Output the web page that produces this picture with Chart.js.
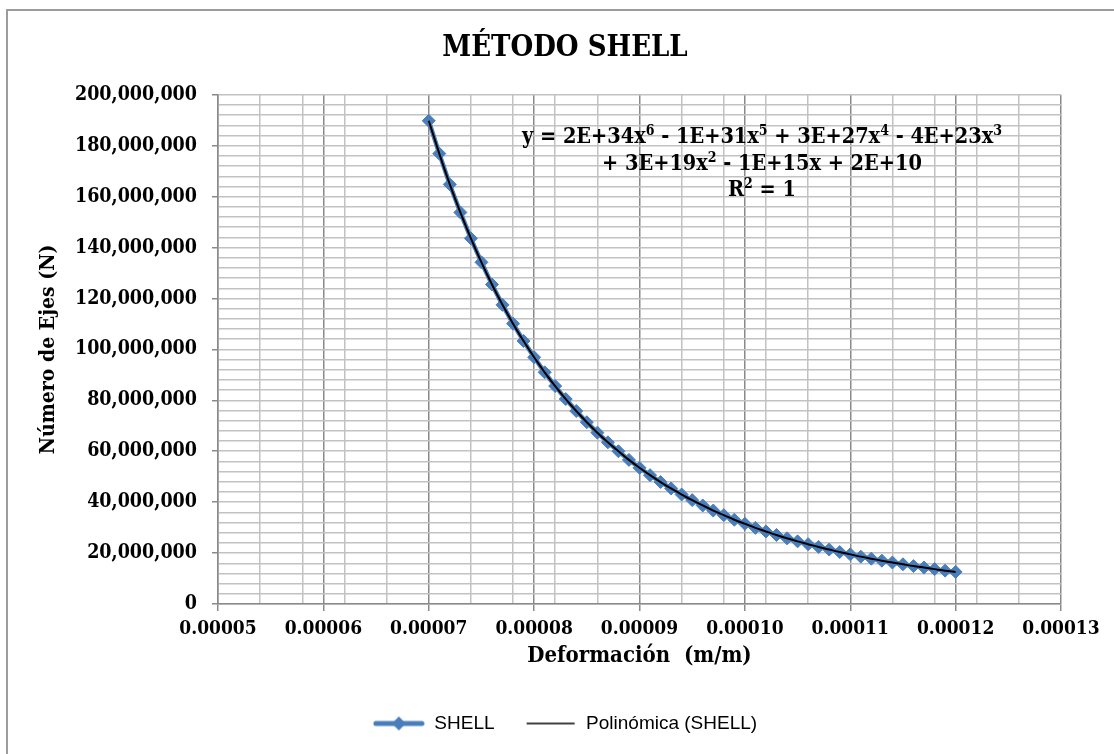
<!DOCTYPE html>
<html>
<head>
<meta charset="utf-8">
<title>Método Shell</title>
<script src="https://cdn.jsdelivr.net/npm/chart.js@4"></script>
<style>
  html, body { margin: 0; padding: 0; background: #fff; overflow: hidden; }
  #frame { position: absolute; left: 6px; top: 9px; width: 1200px; height: 800px; border: 2px solid #9c9c9c; }
  #chart { position: absolute; left: 0; top: 0; }
</style>
</head>
<body>
<div id="frame"></div>
<canvas id="chart" width="1114" height="754"></canvas>
<script>
// Deformación unitaria (m/m)
const strain = [
  0.000070, 0.000071, 0.000072, 0.000073, 0.000074, 0.000075, 0.000076, 0.000077, 0.000078, 0.000079,
  0.000080, 0.000081, 0.000082, 0.000083, 0.000084, 0.000085, 0.000086, 0.000087, 0.000088, 0.000089,
  0.000090, 0.000091, 0.000092, 0.000093, 0.000094, 0.000095, 0.000096, 0.000097, 0.000098, 0.000099,
  0.000100, 0.000101, 0.000102, 0.000103, 0.000104, 0.000105, 0.000106, 0.000107, 0.000108, 0.000109,
  0.000110, 0.000111, 0.000112, 0.000113, 0.000114, 0.000115, 0.000116, 0.000117, 0.000118, 0.000119,
  0.000120
];
// Número de ejes admisibles (N)
const axles = [
  189.8e6, 176.9e6, 164.8e6, 153.8e6, 143.6e6, 134.2e6, 125.5e6, 117.5e6, 110.1e6, 103.3e6,
  96.9e6, 91.0e6, 85.6e6, 80.5e6, 75.8e6, 71.4e6, 67.3e6, 63.5e6, 60.0e6, 56.6e6,
  53.5e6, 50.6e6, 47.9e6, 45.4e6, 43.0e6, 40.8e6, 38.7e6, 36.7e6, 34.9e6, 33.1e6,
  31.5e6, 29.9e6, 28.5e6, 27.1e6, 25.8e6, 24.6e6, 23.5e6, 22.4e6, 21.4e6, 20.4e6,
  19.5e6, 18.6e6, 17.8e6, 17.0e6, 16.3e6, 15.6e6, 14.9e6, 14.3e6, 13.7e6, 13.1e6,
  12.6e6
];

// ejes
const xMajorTicks = [0.00005, 0.00006, 0.00007, 0.00008, 0.00009, 0.00010, 0.00011, 0.00012, 0.00013];
const xMinorStep = 0.000004;
const yMajorTicks = [0, 20e6, 40e6, 60e6, 80e6, 100e6, 120e6, 140e6, 160e6, 180e6, 200e6];
const yMinorStep = 4e6;

const eqLines = [
  'y = 2E+34x^6 - 1E+31x^5 + 3E+27x^4 - 4E+23x^3',
  '+ 3E+19x^2 - 1E+15x + 2E+10',
  'R^2 = 1'
];

const SERIF = "'DejaVu Serif Condensed', 'Liberation Serif', serif";
const SANS = "'Liberation Sans', Arial, sans-serif";
const BLUE = '#4a7ebb';
const GRID_MINOR = '#c2c2c2';
const GRID_MAJOR = '#8a8a8a';
const NONE = 'rgba(0,0,0,0)';

// grid positions: minor lines every 0.000004 from the axis minimum plus the labelled majors
const xGrid = [];
{
  const seen = new Set();
  const x0 = xMajorTicks[0], x1 = xMajorTicks[xMajorTicks.length - 1];
  for (let v = x0; v <= x1 + 1e-12; v += xMinorStep) seen.add(Math.round(v * 1e7));
  xMajorTicks.forEach(v => seen.add(Math.round(v * 1e7)));
  [...seen].sort((a, b) => a - b).forEach(k => xGrid.push(k / 1e7));
}
const yGrid = [];
for (let v = 0; v <= yMajorTicks[yMajorTicks.length - 1]; v += yMinorStep) yGrid.push(v);

const isXMajor = v => xMajorTicks.some(m => Math.abs(m - v) < 1e-10);
const isYMajor = v => yMajorTicks.includes(v);

// legend symbols
function legendSymbol(withMarker) {
  const c = document.createElement('canvas');
  c.width = 52; c.height = 16;
  const g = c.getContext('2d');
  g.strokeStyle = withMarker ? BLUE : '#000';
  g.lineWidth = withMarker ? 5 : 1.6;
  g.lineCap = withMarker ? 'round' : 'butt';
  g.beginPath();
  g.moveTo(withMarker ? 3 : 2, 8);
  g.lineTo(withMarker ? 49 : 50, 8);
  g.stroke();
  if (withMarker) {
    g.fillStyle = BLUE;
    g.beginPath();
    g.moveTo(26, 1); g.lineTo(33, 8); g.lineTo(26, 15); g.lineTo(19, 8);
    g.closePath();
    g.fill();
  }
  return c;
}

const equationLabel = {
  id: 'equationLabel',
  afterDraw(chart) {
    const {ctx, chartArea} = chart;
    const cx = chartArea.right - 299;
    const big = 'bold 21.5px ' + SERIF;
    const small = 'bold 14px ' + SERIF;
    ctx.save();
    ctx.fillStyle = '#000';
    ctx.textBaseline = 'middle';
    ctx.textAlign = 'left';
    eqLines.forEach((line, i) => {
      const parts = line.split(/\^(\d)/);
      let w = 0;
      parts.forEach((p, j) => { ctx.font = j % 2 ? small : big; w += ctx.measureText(p).width; });
      let x = cx - w / 2;
      const y = chartArea.top + 43 + i * 26.5;
      parts.forEach((p, j) => {
        ctx.font = j % 2 ? small : big;
        ctx.fillText(p, x, j % 2 ? y - 6 : y);
        x += ctx.measureText(p).width;
      });
    });
    ctx.restore();
  }
};

new Chart(document.getElementById('chart'), {
  type: 'line',
  data: {
    datasets: [
      {
        label: 'Polinómica (SHELL)',
        data: strain.map((x, i) => ({x, y: axles[i]})),
        borderColor: '#000',
        borderWidth: 2,
        pointRadius: 0,
        cubicInterpolationMode: 'monotone',
        order: 0
      },
      {
        label: 'SHELL',
        data: strain.map((x, i) => ({x, y: axles[i]})),
        borderColor: BLUE,
        backgroundColor: BLUE,
        borderWidth: 4.5,
        pointStyle: 'rectRot',
        pointRadius: 6.5,
        pointBorderWidth: 1,
        pointBackgroundColor: BLUE,
        pointBorderColor: BLUE,
        order: 1
      }
    ]
  },
  options: {
    responsive: false,
    animation: false,
    layout: { padding: { left: 16, right: 0, top: 6, bottom: 11 } },
    scales: {
      x: {
        type: 'linear',
        min: xMajorTicks[0],
        max: xMajorTicks[xMajorTicks.length - 1],
        afterBuildTicks: s => { s.ticks = xGrid.map(v => ({value: v})); },
        afterFit: s => { s.height = 80; s.paddingLeft = 0; s.paddingRight = 53; },
        ticks: {
          autoSkip: false, maxRotation: 0, padding: 7, color: '#000',
          font: { family: SERIF, size: 19, weight: 'bold' },
          callback: v => isXMajor(v) ? v.toFixed(5) : ''
        },
        grid: {
          color: c => isXMajor(c.tick.value) ? GRID_MAJOR : GRID_MINOR,
          tickColor: c => isXMajor(c.tick.value) ? GRID_MAJOR : NONE,
          lineWidth: 1.5,
          tickLength: 7
        },
        border: { color: GRID_MAJOR, width: 1.5 },
        title: {
          display: true, text: 'Deformación  (m/m)', color: '#000',
          font: { family: SERIF, size: 22, weight: 'bold' },
          padding: { top: 0, bottom: 15 }
        }
      },
      y: {
        min: 0,
        max: yMajorTicks[yMajorTicks.length - 1],
        afterBuildTicks: s => { s.ticks = yGrid.map(v => ({value: v})); },
        afterFit: s => { s.width = 202; },
        ticks: {
          autoSkip: false, padding: 15, color: '#000',
          font: { family: SERIF, size: 19.5, weight: 'bold' },
          callback: v => isYMajor(v) ? v.toLocaleString('en-US') : ''
        },
        grid: {
          color: GRID_MINOR,
          tickColor: c => isYMajor(c.tick.value) ? GRID_MAJOR : NONE,
          lineWidth: 1.5,
          tickLength: 6
        },
        border: { color: GRID_MAJOR, width: 1.5 },
        title: {
          display: true, text: 'Número de Ejes (N)', color: '#000',
          font: { family: SERIF, size: 21, weight: 'bold' },
          padding: { top: 20, bottom: 0 }
        }
      }
    },
    plugins: {
      title: {
        display: true, text: 'MÉTODO SHELL', color: '#000',
        font: { family: SERIF, size: 29, weight: 'bold' },
        padding: { top: 25, bottom: 29 }
      },
      legend: {
        position: 'bottom',
        labels: {
          usePointStyle: true,
          pointStyleWidth: 52,
          padding: 30,
          color: '#000',
          font: { family: SANS, size: 19 },
          generateLabels: () => [
            { text: 'SHELL', pointStyle: legendSymbol(true), fillStyle: BLUE, strokeStyle: BLUE, lineWidth: 0, hidden: false, datasetIndex: 1 },
            { text: 'Polinómica (SHELL)', pointStyle: legendSymbol(false), fillStyle: '#000', strokeStyle: '#000', lineWidth: 0, hidden: false, datasetIndex: 0 }
          ]
        }
      },
      tooltip: { enabled: false }
    }
  },
  plugins: [equationLabel]
});
</script>
</body>
</html>
